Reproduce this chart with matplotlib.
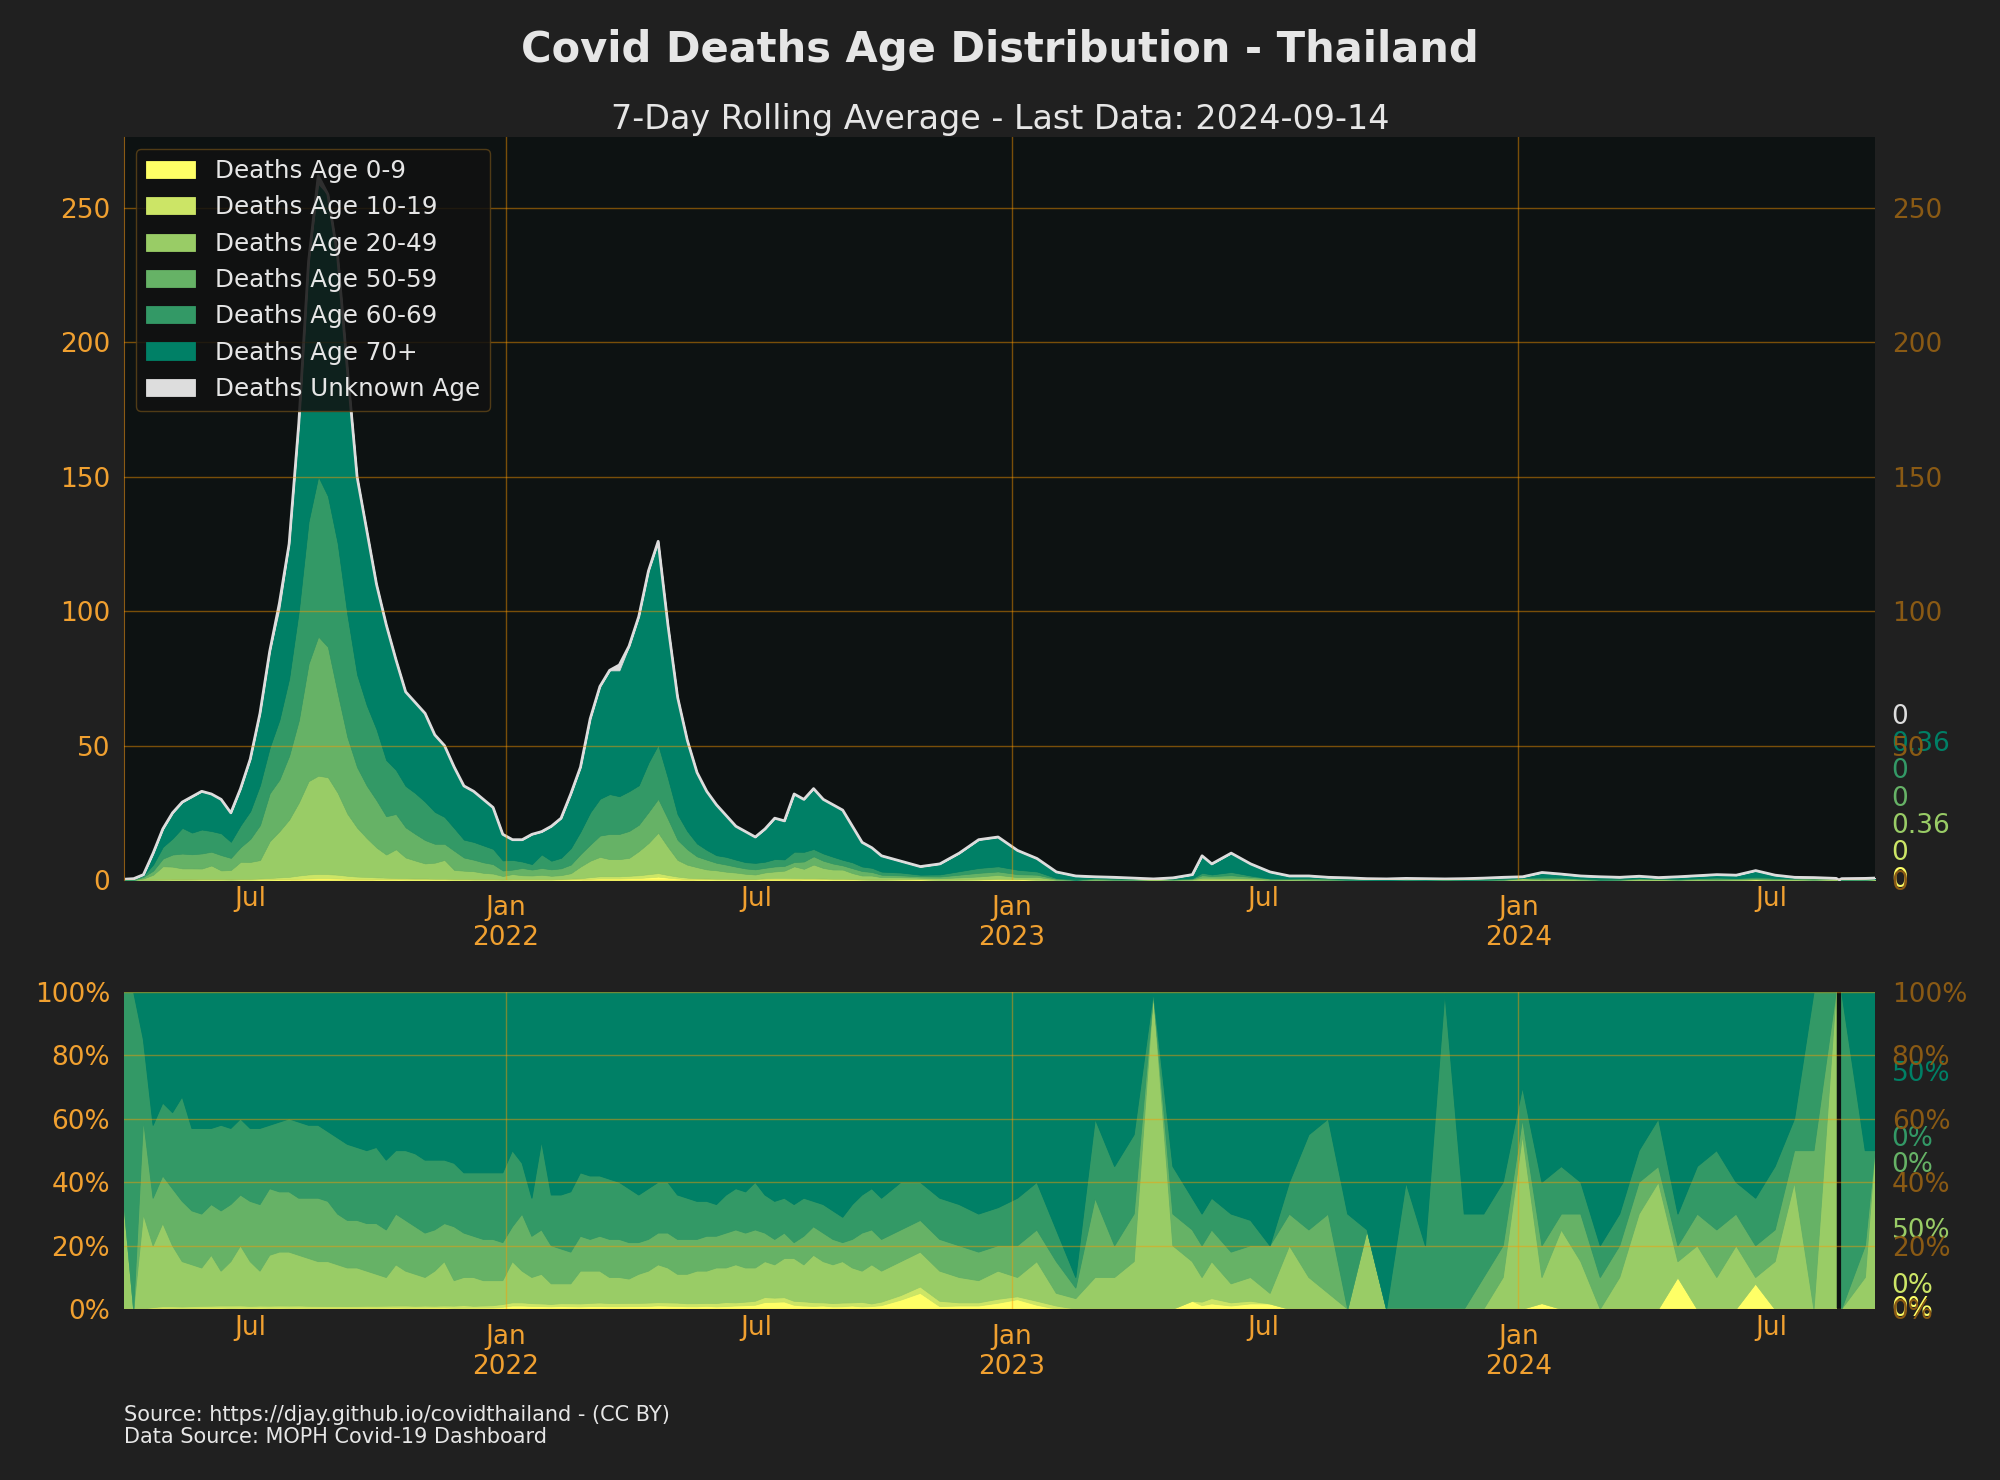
import matplotlib
matplotlib.use("Agg")
import matplotlib.pyplot as plt
import matplotlib.dates as mdates
import matplotlib.ticker as mticker
import numpy as np
import pandas as pd

# ---------------- data (7-day rolling average deaths per day) ----------------
weekly_dates = pd.date_range("2021-04-01", "2022-09-29", freq="7D")
later_dates = pd.to_datetime([
    "2022-10-13", "2022-10-27", "2022-11-10", "2022-11-24", "2022-12-08", "2022-12-22",
    "2023-01-05", "2023-01-19", "2023-02-02", "2023-02-16", "2023-03-02", "2023-03-16",
    "2023-03-30", "2023-04-13", "2023-04-27", "2023-05-11", "2023-05-18", "2023-05-25",
    "2023-06-08", "2023-06-22", "2023-07-06", "2023-07-20", "2023-08-03", "2023-08-17",
    "2023-08-31", "2023-09-14", "2023-09-28", "2023-10-12", "2023-10-26", "2023-11-09",
    "2023-11-23", "2023-12-07", "2023-12-21",
    "2024-01-04", "2024-01-18", "2024-02-01", "2024-02-15", "2024-02-29", "2024-03-14",
    "2024-03-28", "2024-04-11", "2024-04-25", "2024-05-09", "2024-05-23", "2024-06-06",
    "2024-06-20", "2024-07-04", "2024-07-18", "2024-08-01", "2024-08-17", "2024-08-19",
    "2024-08-21", "2024-09-07", "2024-09-14",
])
dates = weekly_dates.append(later_dates)

age_0_9 = [
    0, 0, 0, 0, .05, .05, .05, .05, .1, .1,
    .1, .05, .1, .1, .2, .2, .3, .3, .5, .6,
    .7, .7, .6, .5, .4, .4, .3, .3, .3, .2,
    .2, .2, .2, .2, .1, .1, .1, .1, .1, .1,
    .15, .15, .15, .15, .15, .2, .25, .3, .5, .6,
    .6, .6, .7, .8, 1.0, 1.3, .9, .6, .4, .3,
    .3, .2, .2, .2, .2, .2, .4, .5, .5, .4,
    .3, .3, .3, .2, .2, .2, .1, .1, .1,
    .2, .25, .05, .1, .15, .3,
    .33, .1, 0, 0, 0, 0, 0, 0, 0, .05, .1, .1, .1, .1, .05, 0, 0, 0, 0, 0, 0, 0, 0, 0, 0, 0, 0,
    0, .05, 0, 0, 0, 0, 0, 0, .12, 0, 0, 0, .28, 0, 0, 0, 0, 0, 0, 0, 0,
]
age_10_19 = [
    0, 0, 0, .05, .1, .15, .15, .2, .2, .2,
    .2, .2, .25, .3, .4, .6, .7, .9, 1.2, 1.5,
    1.6, 1.5, 1.4, 1.1, .9, .8, .7, .6, .5, .5,
    .4, .4, .3, .3, .3, .3, .2, .2, .2, .15,
    .15, .15, .15, .15, .15, .2, .3, .4, .6, .8,
    .8, .8, .9, 1.0, 1.2, 1.3, 1.0, .7, .5, .4,
    .3, .3, .3, .2, .2, .2, .3, .3, .3, .4,
    .4, .4, .3, .3, .3, .2, .2, .1, .1,
    .1, .1, .1, .1, .15, .2,
    .1, .1, .03, 0, 0, 0, 0, 0, 0, 0, .1, .1, .1, .05, 0, 0, 0, 0, 0, 0, 0, 0, 0, 0, 0, 0, 0,
    0, 0, 0, 0, 0, 0, 0, 0, 0, 0, 0, 0, 0, 0, 0, 0, 0, 0, 0, 0, 0,
]
age_20_49 = [
    .1, 0, .6, 1.95, 5.0, 4.8, 4.15, 4.09, 3.99, 5.14,
    3.3, 3.5, 6.45, 6.35, 6.84, 13.65, 17.18, 21.3, 27.2, 34.7,
    36.55, 36.05, 30.48, 23.1, 18.2, 14.4, 11.1, 8.6, 10.68, 7.7,
    6.66, 5.6, 5.98, 7.0, 3.38, 3.1, 3.0, 2.4, 2.13, 1.28,
    1.95, 1.5, 1.4, 1.68, 1.3, 1.44, 2.01, 4.34, 6.1, 7.24,
    6.4, 6.4, 6.67, 8.98, 11.6, 15.04, 10.45, 6.18, 4.82, 4.1,
    3.36, 3.14, 2.62, 2.4, 1.94, 1.68, 2.15, 2.42, 2.72, 4.32,
    3.5, 5.08, 3.9, 3.42, 3.4, 2.2, 1.38, 1.48, .88,
    .75, .55, .57, .8, 1.05, 1.42,
    .67, 1.0, .12, .05, .12, .1, .105, .4, .16, .25, .7, .7, .6, .45, .1, .3, .15, .05, 0, .125, 0, 0, 0, 0, 0, 0, .1,
    .66, .23, .55, .225, 0, .1, .42, .36, .06, .32, .2, .36, .07, .27, .4, 0, .6, 0, 0, .06, .36,
]
age_50_59 = [
    0, 0, .6, 1.5, 2.85, 4.5, 5.51, 5.27, 5.61, 5.12,
    5.7, 4.5, 5.44, 8.55, 13.02, 17.85, 19.19, 23.75, 30.6, 43.7,
    51.8, 48.45, 37.12, 28.5, 22.5, 19.5, 17.6, 14.25, 13.12, 11.2,
    9.9, 8.68, 7.02, 6.0, 7.14, 4.9, 4.29, 3.9, 3.51, 2.04,
    1.65, 2.7, 2.21, 2.52, 2.4, 2.53, 3.2, 4.62, 6.0, 7.92,
    9.36, 9.36, 10.0, 9.8, 11.5, 12.6, 10.45, 7.48, 5.72, 4.0,
    3.63, 2.8, 2.64, 2.2, 1.98, 1.92, 1.71, 1.84, 1.76, 1.6,
    2.7, 3.06, 2.7, 2.24, 1.56, 1.8, 1.68, 1.32, .9,
    .7, .5, .6, 1.0, 1.35, 1.28,
    1.1, .8, .3, .05, .3, .1, .105, 0, .08, .2, .9, .6, 1.0, .6, .45, .15, .225, .25, 0, 0, 0, 0, 0, 0, 0, .07, .1,
    .06, .28, .11, .225, .12, .1, .14, .045, .06, .16, .3, .18, .35, .18, .1, .45, 0, 0, 0, .06, 0,
]
age_60_69 = [
    .2, .5, .5, 2.3, 4.37, 6.0, 9.57, 8.06, 8.91, 7.68,
    8.1, 6.0, 8.16, 10.35, 14.88, 17.0, 22.22, 28.75, 40.8, 52.9,
    59.57, 56.1, 55.68, 45.6, 34.5, 29.9, 26.4, 20.9, 16.4, 15.4,
    15.18, 14.26, 11.88, 10.0, 8.4, 6.65, 6.6, 6.3, 5.67, 3.74,
    3.6, 2.4, 2.04, 5.04, 3.2, 3.91, 6.08, 8.4, 12.0, 13.68,
    14.82, 14.04, 14.79, 14.7, 18.4, 20.16, 15.2, 9.52, 6.76, 4.8,
    3.63, 2.8, 2.88, 2.6, 2.34, 2.4, 2.28, 2.76, 2.42, 3.84,
    3.6, 2.72, 2.7, 2.52, 2.08, 2.2, 1.68, 1.56, 1.17,
    1.05, .6, .78, 1.3, 1.8, 1.92,
    1.65, 1.2, .3, .05, .3, .25, .175, 0, .12, .2, .9, .6, 1.2, .48, 0, .15, .45, .3, .24, 0, 0, .24, .1, .4, .15, .14, .2,
    .12, .56, .33, .15, .12, .1, .14, .135, .12, .24, .5, .18, .525, .36, .1, .45, 0, 0, .5, .18, 0,
]
age_70_plus = [
    0, 0, .3, 4.2, 6.65, 9.5, 9.57, 13.33, 14.19, 13.76,
    12.6, 10.75, 13.6, 19.35, 26.66, 35.7, 41.41, 50.0, 69.7, 96.6,
    108.78, 112.2, 106.72, 91.2, 73.5, 65.0, 53.9, 50.35, 41.0, 35.0,
    33.66, 32.86, 28.62, 26.5, 22.68, 19.95, 18.81, 17.1, 15.39, 9.69,
    7.5, 8.1, 11.05, 8.46, 12.8, 14.72, 20.16, 23.94, 34.8, 41.76,
    46.02, 46.8, 53.94, 62.72, 71.3, 75.6, 57.0, 43.52, 33.8, 26.4,
    21.78, 18.76, 15.36, 12.4, 11.34, 9.6, 12.16, 15.18, 14.3, 21.44,
    19.5, 22.44, 20.1, 19.32, 18.46, 13.4, 8.96, 7.44, 5.85,
    4.2, 3.0, 3.9, 6.7, 10.5, 10.88,
    7.15, 4.8, 2.25, 1.35, .48, .55, .315, 0, .44, 1.3, 6.3, 3.9, 7.0, 4.32, 2.4, .9, .675, .4, .56, .375, .4, .36, .4, 0, .35, .49, .6,
    .36, 1.68, 1.21, .9, .96, .7, .7, .36, .84, .88, 1.0, 1.08, 2.275, .99, .4, 0, 0, 0, 0, .3, .36,
]
age_unknown = [
    0, 0, 0, 0, 0, 0, 0, 0, 0, 0,
    0, 0, 0, 0, 0, 0, 2, 0, 0, 0,
    3, 0, 0, 0, 0, 0, 0, 0, 0, 0,
    0, 0, 0, 0, 0, 0, 0, 0, 0, 0,
    0, 0, 0, 0, 0, 0, 0, 0, 0, 0,
    0, 2, 0, 0, 0, 0, 0, 0, 0, 0,
    0, 0, 0, 0, 0, 0, 0, 0, 0, 0,
    0, 0, 0, 0, 0, 0, 0, 0, 0,
    0, 0, 0, 0, 0, 0,
    0, 0, 0, 0, 0, 0, 0, 0, 0, 0, 0, 0, 0, 0, 0, 0, 0, 0, 0, 0, 0, 0, 0, 0, 0, 0, 0,
    0, 0, 0, 0, 0, 0, 0, 0, 0, 0, 0, 0, 0, 0, 0, 0, 0, 0, 0, 0, 0,
]

labels = ["Deaths Age 0-9", "Deaths Age 10-19", "Deaths Age 20-49", "Deaths Age 50-59",
          "Deaths Age 60-69", "Deaths Age 70+", "Deaths Unknown Age"]
colors = ["#ffff66", "#cce566", "#99cc66", "#66b266", "#339966", "#008066", "#dddddd"]

title = "Covid Deaths Age Distribution - Thailand"
subtitle = "7-Day Rolling Average - Last Data: 2024-09-14"
source1 = "Source: https://djay.github.io/covidthailand - (CC BY)"
source2 = "Data Source: MOPH Covid-19 Dashboard"

# ---------------- styling ----------------
FIG_BG = "#202020"
AX_BG = "#0d1212"
ORANGE = "#f0a030"
DIM = "#8a5a14"
TXT = "#e6e6e6"
FS = 19

series = np.array([age_0_9, age_10_19, age_20_49, age_50_59, age_60_69,
                   age_70_plus, age_unknown], dtype=float)
x = dates.to_pydatetime()

fig = plt.figure(figsize=(20, 14.8), dpi=100, facecolor=FIG_BG)
ax1 = fig.add_axes([0.062, 0.4054, 0.8755, 0.502], facecolor=AX_BG)
ax2 = fig.add_axes([0.062, 0.1155, 0.8755, 0.2142], facecolor=AX_BG)

# top: stacked counts
base = np.zeros(series.shape[1])
for vals, col, lab in zip(series, colors, labels):
    top = base + vals
    ax1.fill_between(x, base, top, facecolor=col, edgecolor=col, linewidth=0.6,
                     label=lab, zorder=1)
    base = top
ax1.plot(x, base, color="#dddddd", lw=2.0, zorder=2)
ax1.set_ylim(0, 276.4)
ax1.yaxis.set_major_locator(mticker.MultipleLocator(50))

# bottom: percentage of known ages
known = series[:6]
tot = known.sum(axis=0)
with np.errstate(invalid="ignore", divide="ignore"):
    pct = np.where(tot > 0, known / np.where(tot > 0, tot, 1) * 100, np.nan)
base = np.zeros(pct.shape[1])
for vals, col in zip(pct, colors[:6]):
    top = base + vals
    ax2.fill_between(x, base, top, facecolor=col, edgecolor=col, linewidth=0.8, zorder=1)
    base = top
ax2.set_ylim(0, 100)
ax2.yaxis.set_major_locator(mticker.MultipleLocator(20))
ax2.yaxis.set_major_formatter(mticker.FuncFormatter(lambda v, p: f"{v:.0f}%"))

for ax in (ax1, ax2):
    ax.set_xlim(pd.Timestamp("2021-04-01"), pd.Timestamp("2024-09-14"))
    ax.xaxis.set_major_locator(mdates.YearLocator())
    ax.xaxis.set_major_formatter(mdates.DateFormatter("%b\n%Y"))
    ax.xaxis.set_minor_locator(mdates.MonthLocator(bymonth=7))
    ax.xaxis.set_minor_formatter(mdates.DateFormatter("%b"))
    ax.tick_params(axis="x", which="major", length=0, pad=11, labelsize=FS, labelcolor=ORANGE)
    ax.tick_params(axis="x", which="minor", length=0, pad=4, labelsize=FS, labelcolor=ORANGE)
    ax.tick_params(axis="y", length=0, pad=10, labelsize=FS, labelcolor=ORANGE)
    ax.grid(True, which="major", color="#ff9900", alpha=0.45, lw=1)
    ax.set_axisbelow(False)
    for s in ax.spines.values():
        s.set_visible(False)
ax1.spines["left"].set_visible(True)
ax1.spines["left"].set_color(DIM)

# right side dim duplicate axes
for ax in (ax1, ax2):
    axr = ax.twinx()
    axr.set_ylim(ax.get_ylim())
    axr.yaxis.set_major_locator(ax.yaxis.get_major_locator())
    axr.yaxis.set_major_formatter(ax.yaxis.get_major_formatter())
    axr.tick_params(axis="y", length=0, pad=12, labelsize=FS, labelcolor=DIM)
    for s in axr.spines.values():
        s.set_visible(False)

# last-value labels
last_counts = series[:, -1]
for i, (v, col) in enumerate(zip(last_counts, colors)):
    ax1.text(1.0095, i * 10.1, f"{v:g}", transform=ax1.get_yaxis_transform(),
             ha="left", va="center", fontsize=FS, color=col, clip_on=False)

last_pct = pct[:, -1]
pct_label_pos = [0.0, 0.073, 0.246, 0.456, 0.536, 0.742]
for v, col, yp in zip(last_pct, colors[:6], pct_label_pos):
    ax2.text(1.0095, yp, f"{v:.0f}%", transform=ax2.transAxes,
             ha="left", va="center", fontsize=FS, color=col, clip_on=False)

leg = ax1.legend(loc="upper left", fontsize=17.7, labelspacing=0.5, facecolor="#111111",
                 framealpha=0.85, edgecolor="#5c4318", labelcolor=TXT)
leg.set_zorder(5)

fig.text(0.5, 0.966, title, ha="center", va="center", fontsize=30,
         fontweight="bold", color=TXT)
fig.text(0.5, 0.919, subtitle, ha="center", va="center", fontsize=24, color=TXT)
fig.text(0.062, 0.044, source1, ha="left", va="center", fontsize=15, color=TXT)
fig.text(0.062, 0.029, source2, ha="left", va="center", fontsize=15, color=TXT)

fig.savefig("out.png", dpi=100, facecolor=FIG_BG)
